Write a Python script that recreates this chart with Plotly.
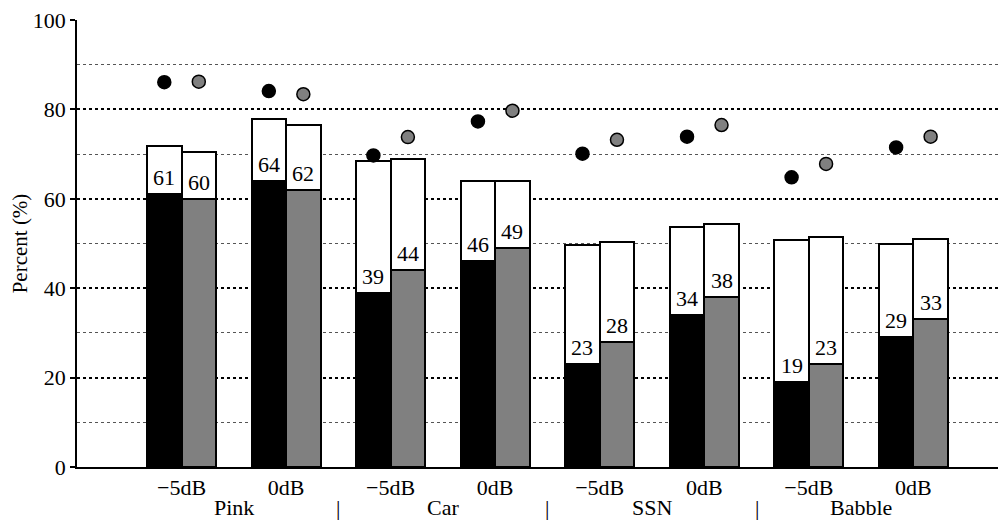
import plotly.graph_objects as go

snr_labels = ["\u22125dB", "0dB", "\u22125dB", "0dB", "\u22125dB", "0dB", "\u22125dB", "0dB"]
noise_types = ["Pink", "Car", "SSN", "Babble"]

black_fill = [61, 64, 39, 46, 23, 34, 19, 29]
gray_fill = [60, 62, 44, 49, 28, 38, 23, 33]
black_total = [71.8, 77.9, 68.4, 63.9, 49.7, 53.8, 50.7, 49.9]
gray_total = [70.5, 76.4, 68.8, 63.9, 50.4, 54.3, 51.4, 50.9]
black_dot = [86.1, 84.1, 69.7, 77.3, 70.1, 73.9, 64.8, 71.5]
gray_dot = [86.2, 83.4, 73.8, 79.7, 73.2, 76.5, 67.8, 73.9]

FONT = "Liberation Serif, Times New Roman, Times, serif"
FS = 22
n = len(snr_labels)
off = 0.165
bw = 0.33
xb = [i - off for i in range(n)]
xg = [i + off for i in range(n)]

fig = go.Figure()
line = dict(color="black", width=2)
fig.add_trace(go.Bar(x=xb, y=black_fill, width=bw, marker=dict(color="black", line=line), showlegend=False))
fig.add_trace(go.Bar(x=xb, y=[t - f for t, f in zip(black_total, black_fill)], base=black_fill, width=bw,
                     marker=dict(color="white", line=line), showlegend=False))
fig.add_trace(go.Bar(x=xg, y=gray_fill, width=bw, marker=dict(color="#808080", line=line), showlegend=False))
fig.add_trace(go.Bar(x=xg, y=[t - f for t, f in zip(gray_total, gray_fill)], base=gray_fill, width=bw,
                     marker=dict(color="white", line=line), showlegend=False))
fig.add_trace(go.Scatter(x=xb, y=black_dot, mode="markers",
                         marker=dict(color="black", size=13, line=dict(color="black", width=1.5)), showlegend=False))
fig.add_trace(go.Scatter(x=xg, y=gray_dot, mode="markers",
                         marker=dict(color="#808080", size=13, line=dict(color="black", width=1.5)), showlegend=False))

annotations = []
for xs, vals in ((xb, black_fill), (xg, gray_fill)):
    for x, v in zip(xs, vals):
        annotations.append(dict(x=x, y=v, xref="x", yref="y", text=str(v), showarrow=False,
                                yanchor="bottom", yshift=2, font=dict(family=FONT, size=FS, color="black")))
for k, name in enumerate(noise_types):
    annotations.append(dict(x=2 * k + 0.5, y=0, xref="x", yref="paper", text=name, showarrow=False,
                            yanchor="bottom", yshift=-55, font=dict(family=FONT, size=FS, color="black")))
for k in range(len(noise_types) - 1):
    annotations.append(dict(x=2 * k + 1.5, y=0, xref="x", yref="paper", text="|", showarrow=False,
                            yanchor="bottom", yshift=-55, font=dict(family=FONT, size=FS, color="black")))

# page body has an 8px margin, so the figure is sized and offset to land on the same pixels
fig.update_layout(
    width=998, height=514,
    margin=dict(l=65, r=0, t=8, b=55),
    plot_bgcolor="white", paper_bgcolor="white",
    barmode="overlay", bargap=0,
    font=dict(family=FONT, size=FS, color="black"),
    annotations=annotations,
    xaxis=dict(range=[-1, 7.886], tickmode="array", tickvals=list(range(n)), ticktext=snr_labels,
               showgrid=False, zeroline=False, showline=True, linecolor="black", linewidth=1.5,
               ticks="", tickfont=dict(family=FONT, size=FS), ticklabeloverflow="allow"),
    yaxis=dict(range=[0, 100], tickmode="array", tickvals=[0, 20, 40, 60, 80, 100],
               showgrid=True, gridcolor="black", griddash="dot", gridwidth=1.5,
               minor=dict(tickvals=[10, 30, 50, 70, 90], showgrid=True, gridcolor="#555555",
                          griddash="dot", gridwidth=1, ticks=""),
               zeroline=False, showline=True, linecolor="black", linewidth=1.5,
               ticks="outside", ticklen=5, tickwidth=1.5, tickcolor="black",
               tickfont=dict(family=FONT, size=FS), ticklabeloverflow="allow",
               title=dict(text="Percent (%)", font=dict(family=FONT, size=21), standoff=10)),
)

fig.write_html("out.html")
